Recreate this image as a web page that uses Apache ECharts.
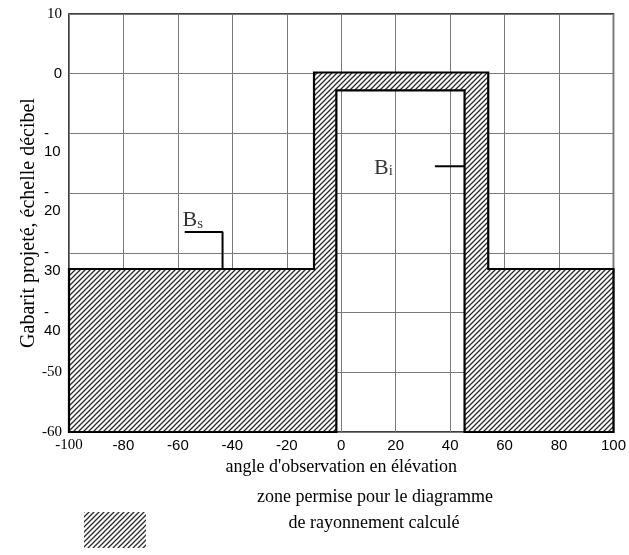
<!DOCTYPE html>
<html><head><meta charset="utf-8">
<script src="https://cdn.jsdelivr.net/npm/echarts@6/dist/echarts.min.js"></script>
<style>html,body{margin:0;padding:0;background:#fff}#c{width:629px;height:555px}</style>
</head><body><div id="c"></div>
<script>
// --- data ---
const xTickValues = [-100, -80, -60, -40, -20, 0, 20, 40, 60, 80, 100];
const yTickValues = [10, 0, -10, -20, -30, -40, -50, -60];
// allowed zone (hatched) outline: outer envelope Bs, inner envelope Bi
const zoneAngles = [-100, -100, -10, -10, 54, 54, 100, 100, 45.3, 45.3, -1.8, -1.8];
const zoneLevels = [-60, -32.7, -32.7, 0.2, 0.2, -32.7, -32.7, -60, -60, -2.8, -2.8, -60];
// leader lines for labels
const bsLeaderAngles = [-57.5, -43.6, -43.6];
const bsLeaderLevels = [-26.5, -26.5, -32.7];
const biLeaderAngles = [34.4, 45.3];
const biLeaderLevels = [-15.5, -15.5];
const labelNames = ['s', 'i'];
const labelAngles = [-54.5, 15.5];
const labelLevels = [-24.4, -15.6];

const SERIF = '"Liberation Serif", "Times New Roman", serif';
const SANS = '"Liberation Sans", Arial, sans-serif';

function makeHatch() {
  const s = 5;
  const c = document.createElement('canvas');
  c.width = s; c.height = s;
  const g = c.getContext('2d');
  g.fillStyle = '#fff'; g.fillRect(0, 0, s, s);
  g.strokeStyle = '#2a2a2a'; g.lineWidth = 1.3;
  g.beginPath();
  g.moveTo(-1, s + 1); g.lineTo(s + 1, -1);
  g.moveTo(-1, 1); g.lineTo(1, -1);
  g.moveTo(s - 1, s + 1); g.lineTo(s + 1, s - 1);
  g.stroke();
  return c;
}
const hatch = makeHatch();

const chart = echarts.init(document.getElementById('c'), null, {renderer: 'canvas'});

const option = {
  backgroundColor: '#fff',
  animation: false,
  grid: {left: 69, right: 14, top: 14, bottom: 123, show: true, borderColor: '#000', borderWidth: 1.5, backgroundColor: 'transparent'},
  xAxis: {
    type: 'value', min: -100, max: 100, interval: 20,
    axisLine: {show: false}, axisTick: {show: false},
    splitLine: {show: true, lineStyle: {color: '#7a7a7a', width: 1}},
    axisLabel: {
      margin: 6, color: '#000',
      formatter: v => v === -100 ? '{s|' + v + '}' : '{a|' + v + '}',
      rich: {s: {fontFamily: SERIF, fontSize: 15, color: '#000'}, a: {fontFamily: SANS, fontSize: 15, color: '#000'}}
    },
    name: "angle d'observation en élévation", nameLocation: 'middle', nameGap: 25,
    nameTextStyle: {fontFamily: SERIF, fontSize: 18, color: '#000'}
  },
  yAxis: {
    type: 'value', min: -60, max: 10, interval: 10,
    axisLine: {show: false}, axisTick: {show: false},
    splitLine: {show: true, lineStyle: {color: '#7a7a7a', width: 1}},
    axisLabel: {
      margin: 7, color: '#000',
      formatter: v => {
        if (v === 10) return '{s|10}';
        if (v === 0) return '{a|0}';
        if (v <= -10 && v >= -40) return '{sp| }\n{d|-}\n{n|' + (-v) + '}';
        return '{s|' + v + '}';
      },
      rich: {
        s: {fontFamily: SERIF, fontSize: 15, color: '#000'},
        a: {fontFamily: SANS, fontSize: 15, color: '#000'},
        sp: {fontSize: 10, lineHeight: 20, width: 18, align: 'left'},
        d: {fontFamily: SANS, fontSize: 15, lineHeight: 16, width: 18, align: 'left', color: '#000'},
        n: {fontFamily: SANS, fontSize: 15, lineHeight: 20, width: 18, align: 'left', color: '#000'}
      }
    },
    name: 'Gabarit projeté, échelle décibel', nameLocation: 'middle', nameGap: 30, nameMoveOverlap: false,
    nameTextStyle: {fontFamily: SERIF, fontSize: 20, color: '#000'}
  },
  series: [
    {
      type: 'custom', z: 5,
      data: zoneAngles.map((a, i) => [a, zoneLevels[i]]),
      renderItem: (params, api) => {
        if (params.dataIndex !== 0) return null;
        const pts = zoneAngles.map((a, i) => api.coord([a, zoneLevels[i]]));
        return {
          type: 'polygon',
          shape: {points: pts},
          style: {fill: {image: hatch, repeat: 'repeat'}, stroke: '#000', lineWidth: 2.2, lineJoin: 'miter'}
        };
      }
    },
    {
      type: 'line', z: 6, symbol: 'none', silent: true,
      data: bsLeaderAngles.map((a, i) => [a, bsLeaderLevels[i]]),
      lineStyle: {color: '#000', width: 2}
    },
    {
      type: 'line', z: 6, symbol: 'none', silent: true,
      data: biLeaderAngles.map((a, i) => [a, biLeaderLevels[i]]),
      lineStyle: {color: '#000', width: 2}
    },
    {
      type: 'scatter', z: 7, symbolSize: 0, silent: true,
      data: labelAngles.map((a, i) => ({value: [a, labelLevels[i]], name: labelNames[i]})),
      label: {
        show: true, position: 'inside',
        formatter: p => '{b|B}{sub|' + p.name + '}',
        rich: {
          b: {fontFamily: SERIF, fontSize: 22, color: '#000', verticalAlign: 'bottom', lineHeight: 24},
          sub: {fontFamily: SERIF, fontSize: 15, color: '#000', verticalAlign: 'bottom', lineHeight: 24, padding: [0, 0, 0, 0]}
        }
      }
    }
  ],
  graphic: [
    {type: 'rect', left: 84, top: 512, shape: {width: 62, height: 36}, style: {fill: {image: hatch, repeat: 'repeat'}}},
    {type: 'text', x: 375, y: 497, style: {text: 'zone permise pour le diagramme', font: '18px ' + SERIF, fill: '#000', textAlign: 'center', textVerticalAlign: 'middle'}},
    {type: 'text', x: 374, y: 523, style: {text: 'de rayonnement calculé', font: '18px ' + SERIF, fill: '#000', textAlign: 'center', textVerticalAlign: 'middle'}}
  ]
};
chart.setOption(option);
</script>
</body></html>
